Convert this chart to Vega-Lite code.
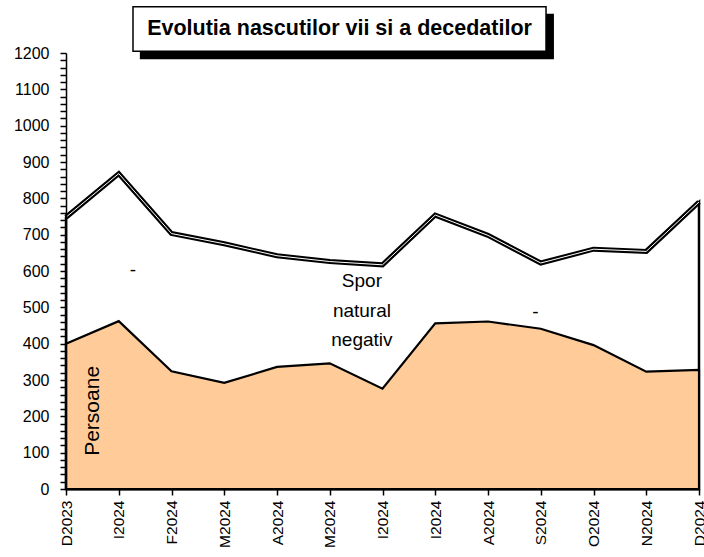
{
  "$schema": "https://vega.github.io/schema/vega-lite/v6.json",
  "width": 633,
  "height": 436,
  "autosize": {"type": "none"},
  "padding": {"left": 66, "top": 53, "right": 5, "bottom": 68},
  "background": "white",
  "config": {"view": {"stroke": null}, "font": "Liberation Sans", "axis": {"labelOverlap": false}},
  "datasets": {
    "lunar": [
      {"n": 0, "luna": "D2023", "decedati": 748, "nascuti": 400},
      {"n": 1, "luna": "I2024", "decedati": 868, "nascuti": 462},
      {"n": 2, "luna": "F2024", "decedati": 703, "nascuti": 324},
      {"n": 3, "luna": "M2024", "decedati": 675, "nascuti": 292},
      {"n": 4, "luna": "A2024", "decedati": 642, "nascuti": 336},
      {"n": 5, "luna": "M2024", "decedati": 626, "nascuti": 346},
      {"n": 6, "luna": "I2024", "decedati": 617, "nascuti": 276},
      {"n": 7, "luna": "I2024", "decedati": 754, "nascuti": 456},
      {"n": 8, "luna": "A2024", "decedati": 698, "nascuti": 461},
      {"n": 9, "luna": "S2024", "decedati": 622, "nascuti": 441},
      {"n": 10, "luna": "O2024", "decedati": 660, "nascuti": 396},
      {"n": 11, "luna": "N2024", "decedati": 654, "nascuti": 323},
      {"n": 12, "luna": "D2024", "decedati": 790, "nascuti": 328}
    ],
    "titlu": [{"t": "Evolutia nascutilor vii si a decedatilor"}],
    "spor": [{"t": "Spor natural negativ"}],
    "minus": [{"t": "-"}],
    "persoane": [{"t": "Persoane"}]
  },
  "layer": [
    {
      "data": {"name": "lunar"},
      "encoding": {
        "x": {
          "field": "n",
          "type": "quantitative",
          "scale": {"domain": [0, 12], "nice": false, "zero": false},
          "axis": {
            "title": null,
            "grid": false,
            "zindex": 1,
            "values": [0, 1, 2, 3, 4, 5, 6, 7, 8, 9, 10, 11, 12],
            "tickCount": 100,
            "labelExpr": "['D2023','I2024','F2024','M2024','A2024','M2024','I2024','I2024','A2024','S2024','O2024','N2024','D2024'][datum.value]",
            "labelAngle": 270,
            "labelAlign": "right",
            "labelBaseline": "middle",
            "labelFont": "Liberation Sans",
            "labelFontSize": 15.5,
            "labelColor": "black",
            "labelFlush": false,
            "labelOverlap": false,
            "labelPadding": 5,
            "tickSize": 6,
            "tickColor": "black",
            "tickWidth": 1.5,
            "domainColor": "black",
            "domainWidth": 2,
            "encode": {"ticks": {"update": {"y": {"value": -3}, "y2": {"value": 6}}}}
          }
        },
        "y": {
          "field": "decedati",
          "type": "quantitative",
          "scale": {"domain": [0, 1200], "nice": false},
          "axis": {
            "title": null,
            "grid": false,
            "zindex": 1,
            "values": [0, 20, 40, 60, 80, 100, 120, 140, 160, 180, 200, 220, 240, 260, 280, 300, 320, 340, 360, 380, 400, 420, 440, 460, 480, 500, 520, 540, 560, 580, 600, 620, 640, 660, 680, 700, 720, 740, 760, 780, 800, 820, 840, 860, 880, 900, 920, 940, 960, 980, 1000, 1020, 1040, 1060, 1080, 1100, 1120, 1140, 1160, 1180, 1200],
            "tickCount": 100,
            "format": "d",
            "labelExpr": "datum.value % 100 === 0 ? datum.label : ''",
            "labelFont": "Liberation Sans",
            "labelFontSize": 16,
            "labelColor": "black",
            "labelOverlap": false,
            "labelPadding": 11,
            "tickSize": 6,
            "tickColor": "black",
            "tickWidth": 1.5,
            "domainColor": "black",
            "domainWidth": 1.5,
            "encode": {"ticks": {"update": {"x": {"signal": "datum.value % 100 === 0 ? -6 : 0"}, "x2": {"signal": "datum.value % 100 === 0 ? 6 : 4"}}}}
          }
        }
      },
      "layer": [
        {"mark": {"type": "area", "fill": "white", "stroke": "black", "strokeWidth": 2.5}},
        {"mark": {"type": "line", "color": "black", "strokeWidth": 5}},
        {"mark": {"type": "line", "color": "white", "strokeWidth": 1}},
        {
          "mark": {"type": "area", "fill": "#FFCC99", "stroke": "black", "strokeWidth": 2.2},
          "encoding": {"y": {"field": "nascuti", "type": "quantitative"}}
        }
      ]
    },
    {
      "data": {"name": "spor"},
      "mark": {"type": "text", "font": "Liberation Sans", "fontSize": 19, "color": "black", "align": "center", "baseline": "middle", "lineHeight": 29.5, "lineBreak": " "},
      "encoding": {
        "x": {"datum": 5.61},
        "y": {"datum": 572},
        "text": {"field": "t"}
      }
    },
    {
      "data": {"name": "minus"},
      "mark": {"type": "text", "font": "Liberation Sans", "fontSize": 19, "color": "black", "align": "center", "baseline": "middle"},
      "encoding": {"x": {"datum": 1.27}, "y": {"datum": 604}, "text": {"field": "t"}}
    },
    {
      "data": {"name": "minus"},
      "mark": {"type": "text", "font": "Liberation Sans", "fontSize": 19, "color": "black", "align": "center", "baseline": "middle"},
      "encoding": {"x": {"datum": 8.9}, "y": {"datum": 488}, "text": {"field": "t"}}
    },
    {
      "data": {"name": "persoane"},
      "mark": {"type": "text", "font": "Liberation Sans", "fontSize": 21, "color": "black", "align": "center", "baseline": "middle", "angle": 270},
      "encoding": {"x": {"datum": 0.52}, "y": {"datum": 215}, "text": {"field": "t"}}
    },
    {
      "data": {"name": "titlu"},
      "mark": {"type": "rect", "fill": "black", "clip": false},
      "encoding": {"x": {"datum": 1.4}, "x2": {"datum": 9.25}, "y": {"datum": 1308}, "y2": {"datum": 1183}}
    },
    {
      "data": {"name": "titlu"},
      "mark": {"type": "rect", "fill": "white", "stroke": "black", "strokeWidth": 1.5, "clip": false},
      "encoding": {"x": {"datum": 1.27}, "x2": {"datum": 9.1}, "y": {"datum": 1327}, "y2": {"datum": 1205}}
    },
    {
      "data": {"name": "titlu"},
      "mark": {"type": "text", "font": "Liberation Sans", "fontSize": 21.5, "fontWeight": "bold", "color": "black", "align": "center", "baseline": "middle", "clip": false},
      "encoding": {"x": {"datum": 5.185}, "y": {"datum": 1265}, "text": {"field": "t"}}
    }
  ]
}
